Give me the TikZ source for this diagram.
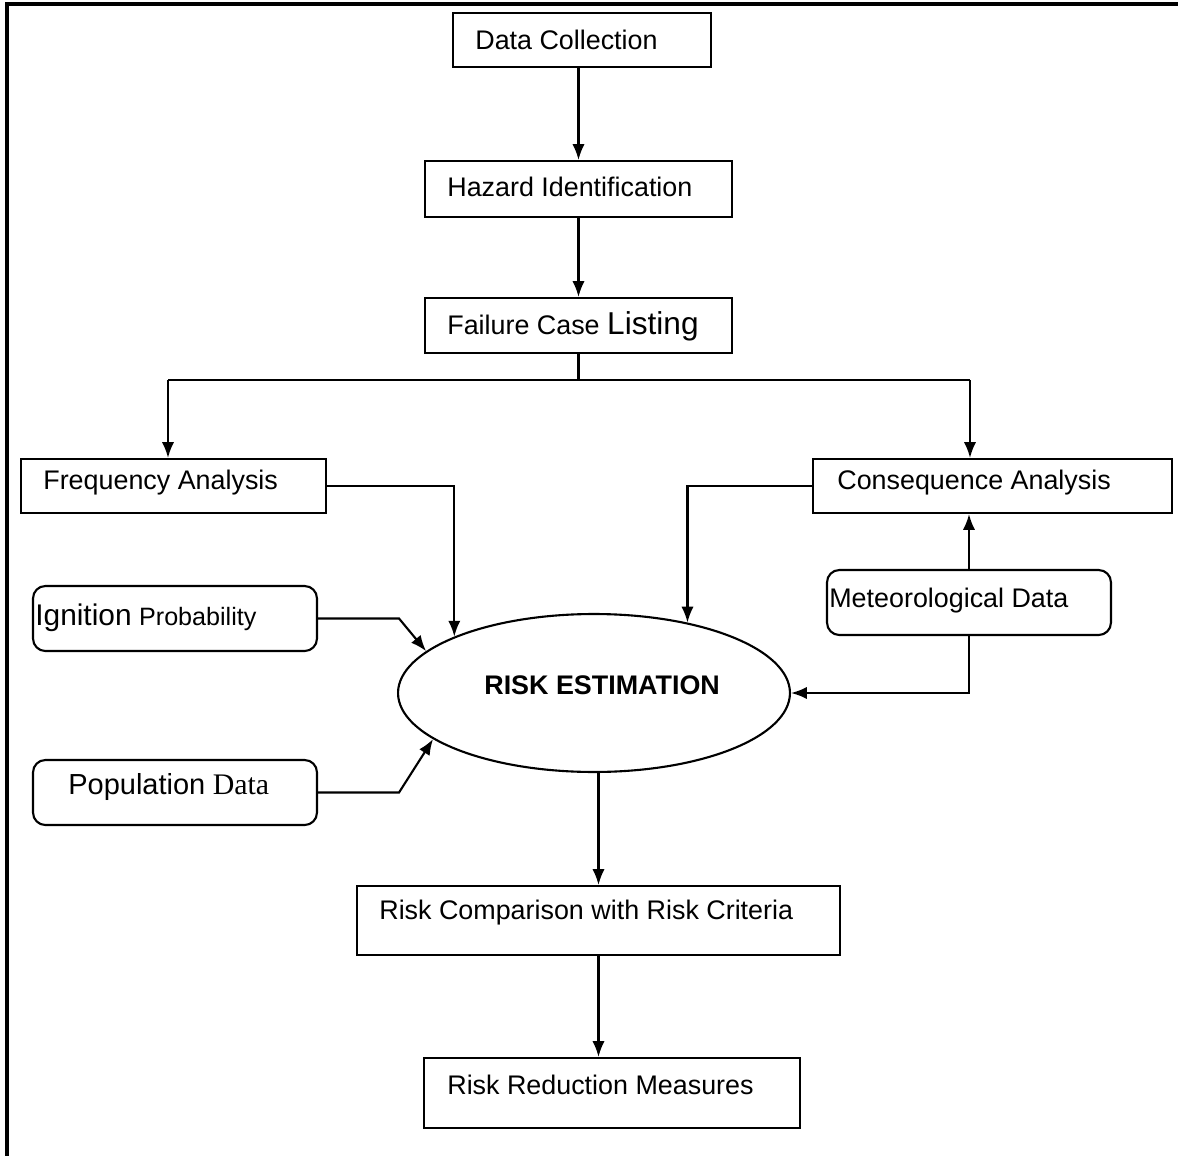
\documentclass[tikz,border=0pt]{standalone}
\usepackage{fontspec}
\setmainfont{Liberation Sans}
\newfontfamily\serifdata{Liberation Serif}
\usetikzlibrary{arrows.meta,shapes.geometric}
\tikzset{
  box/.style={draw, line width=1.2pt, rectangle, inner sep=0pt},
  rbox/.style={draw, line width=1.2pt, rectangle, rounded corners=7pt, inner sep=0pt},
  oval/.style={draw, line width=1.2pt, ellipse, inner sep=0pt},
  txt/.style={anchor=west, inner sep=0pt, font=\fontsize{15.3}{18}\selectfont},
  conn/.style={line width=1.2pt},
  arr/.style={line width=1.2pt, -{Latex[length=9pt,width=7pt]}},
}
\begin{document}
\begin{tikzpicture}[x=0.02cm, y=-0.02cm]
\useasboundingbox (0,0) rectangle (1178,1156);
% frame
\coordinate (fbl) at (7,1156);
\coordinate (ftl) at (7,4);
\coordinate (ftr) at (1178,4);
\draw[line width=1.8pt] (fbl) -- (ftl) -- (ftr);

% boxes
\node[box, minimum width=5.16cm, minimum height=1.08cm] (dc) at (582,40) {};
\node[box, minimum width=6.14cm, minimum height=1.12cm] (hz) at (578.5,189) {};
\node[box, minimum width=6.14cm, minimum height=1.10cm] (fc) at (578.5,325.5) {};
\node[box, minimum width=6.10cm, minimum height=1.08cm] (fa) at (173.5,486) {};
\node[box, minimum width=7.18cm, minimum height=1.08cm] (ca) at (992.5,486) {};
\node[rbox, minimum width=5.68cm, minimum height=1.30cm] (ip) at (175,618.5) {};
\node[rbox, minimum width=5.68cm, minimum height=1.30cm] (pd) at (175,792.5) {};
\node[rbox, minimum width=5.68cm, minimum height=1.30cm] (md) at (969,602.5) {};
\node[oval, minimum width=7.84cm, minimum height=3.16cm] (e) at (594,693) {};
\node[box, minimum width=9.66cm, minimum height=1.38cm] (rc) at (598.5,920.5) {};
\node[box, minimum width=7.52cm, minimum height=1.40cm] (rr) at (612,1093) {};

% texts
\node[txt] (dct) at (475,40) {Data Collection};
\node[txt] (hzt) at (447,187) {Hazard Identification};
\node[txt] (fct) at (447,326) {Failure Case {\fontsize{18}{20}\selectfont Listing}};
\node[txt] (fat) at (43,483) {Frequency Analysis};
\node[txt] (cat) at (837,483) {Consequence Analysis};
\node[txt] (ipt) at (35,618) {{\fontsize{17}{20}\selectfont Ignition} {\fontsize{14.3}{18}\selectfont Probability}};
\node[txt] (pdt) at (68,787) {{\fontsize{16.5}{20}\selectfont Population} {\fontsize{17}{20}\selectfont\serifdata Data}};
\node[txt] (mdt) at (829,601) {Meteorological Data};
\node[txt, font=\fontsize{15.3}{18}\selectfont\bfseries] (et) at (484,685) {RISK ESTIMATION};
\node[txt] (rct) at (379,913) {Risk Comparison with Risk Criteria};
\node[txt] (rrt) at (447,1085) {Risk Reduction Measures};

% connectors
\draw[arr] (hz.north |- dc.south) -- (hz.north);
\draw[arr] (hz.south) -- (fc.north);
\coordinate (bl) at (168,380);
\coordinate (brr) at (970,380);
\draw[conn] (fc.south) -- (fc.south |- bl);
\draw[conn] (bl) -- (brr);
\draw[arr] (bl) -- (bl |- fa.north);
\draw[arr] (brr) -- (brr |- ca.north);
\draw[arr] (fa.east) -| (e.158);
\draw[arr] (ca.west) -| (e.37);
\draw[arr] (ip.east) -- ++(81,0) -- (e.166);
\draw[arr] (pd.east) -- ++(81,0) -- (e.196);
\draw[arr] (md.north) -- (md.north |- ca.south);
\draw[arr] (md.south) |- (e.east);
\draw[arr] (rc.north |- e.south) -- (rc.north);
\draw[arr] (rc.south) -- (rc.south |- rr.north);
\end{tikzpicture}
\end{document}
